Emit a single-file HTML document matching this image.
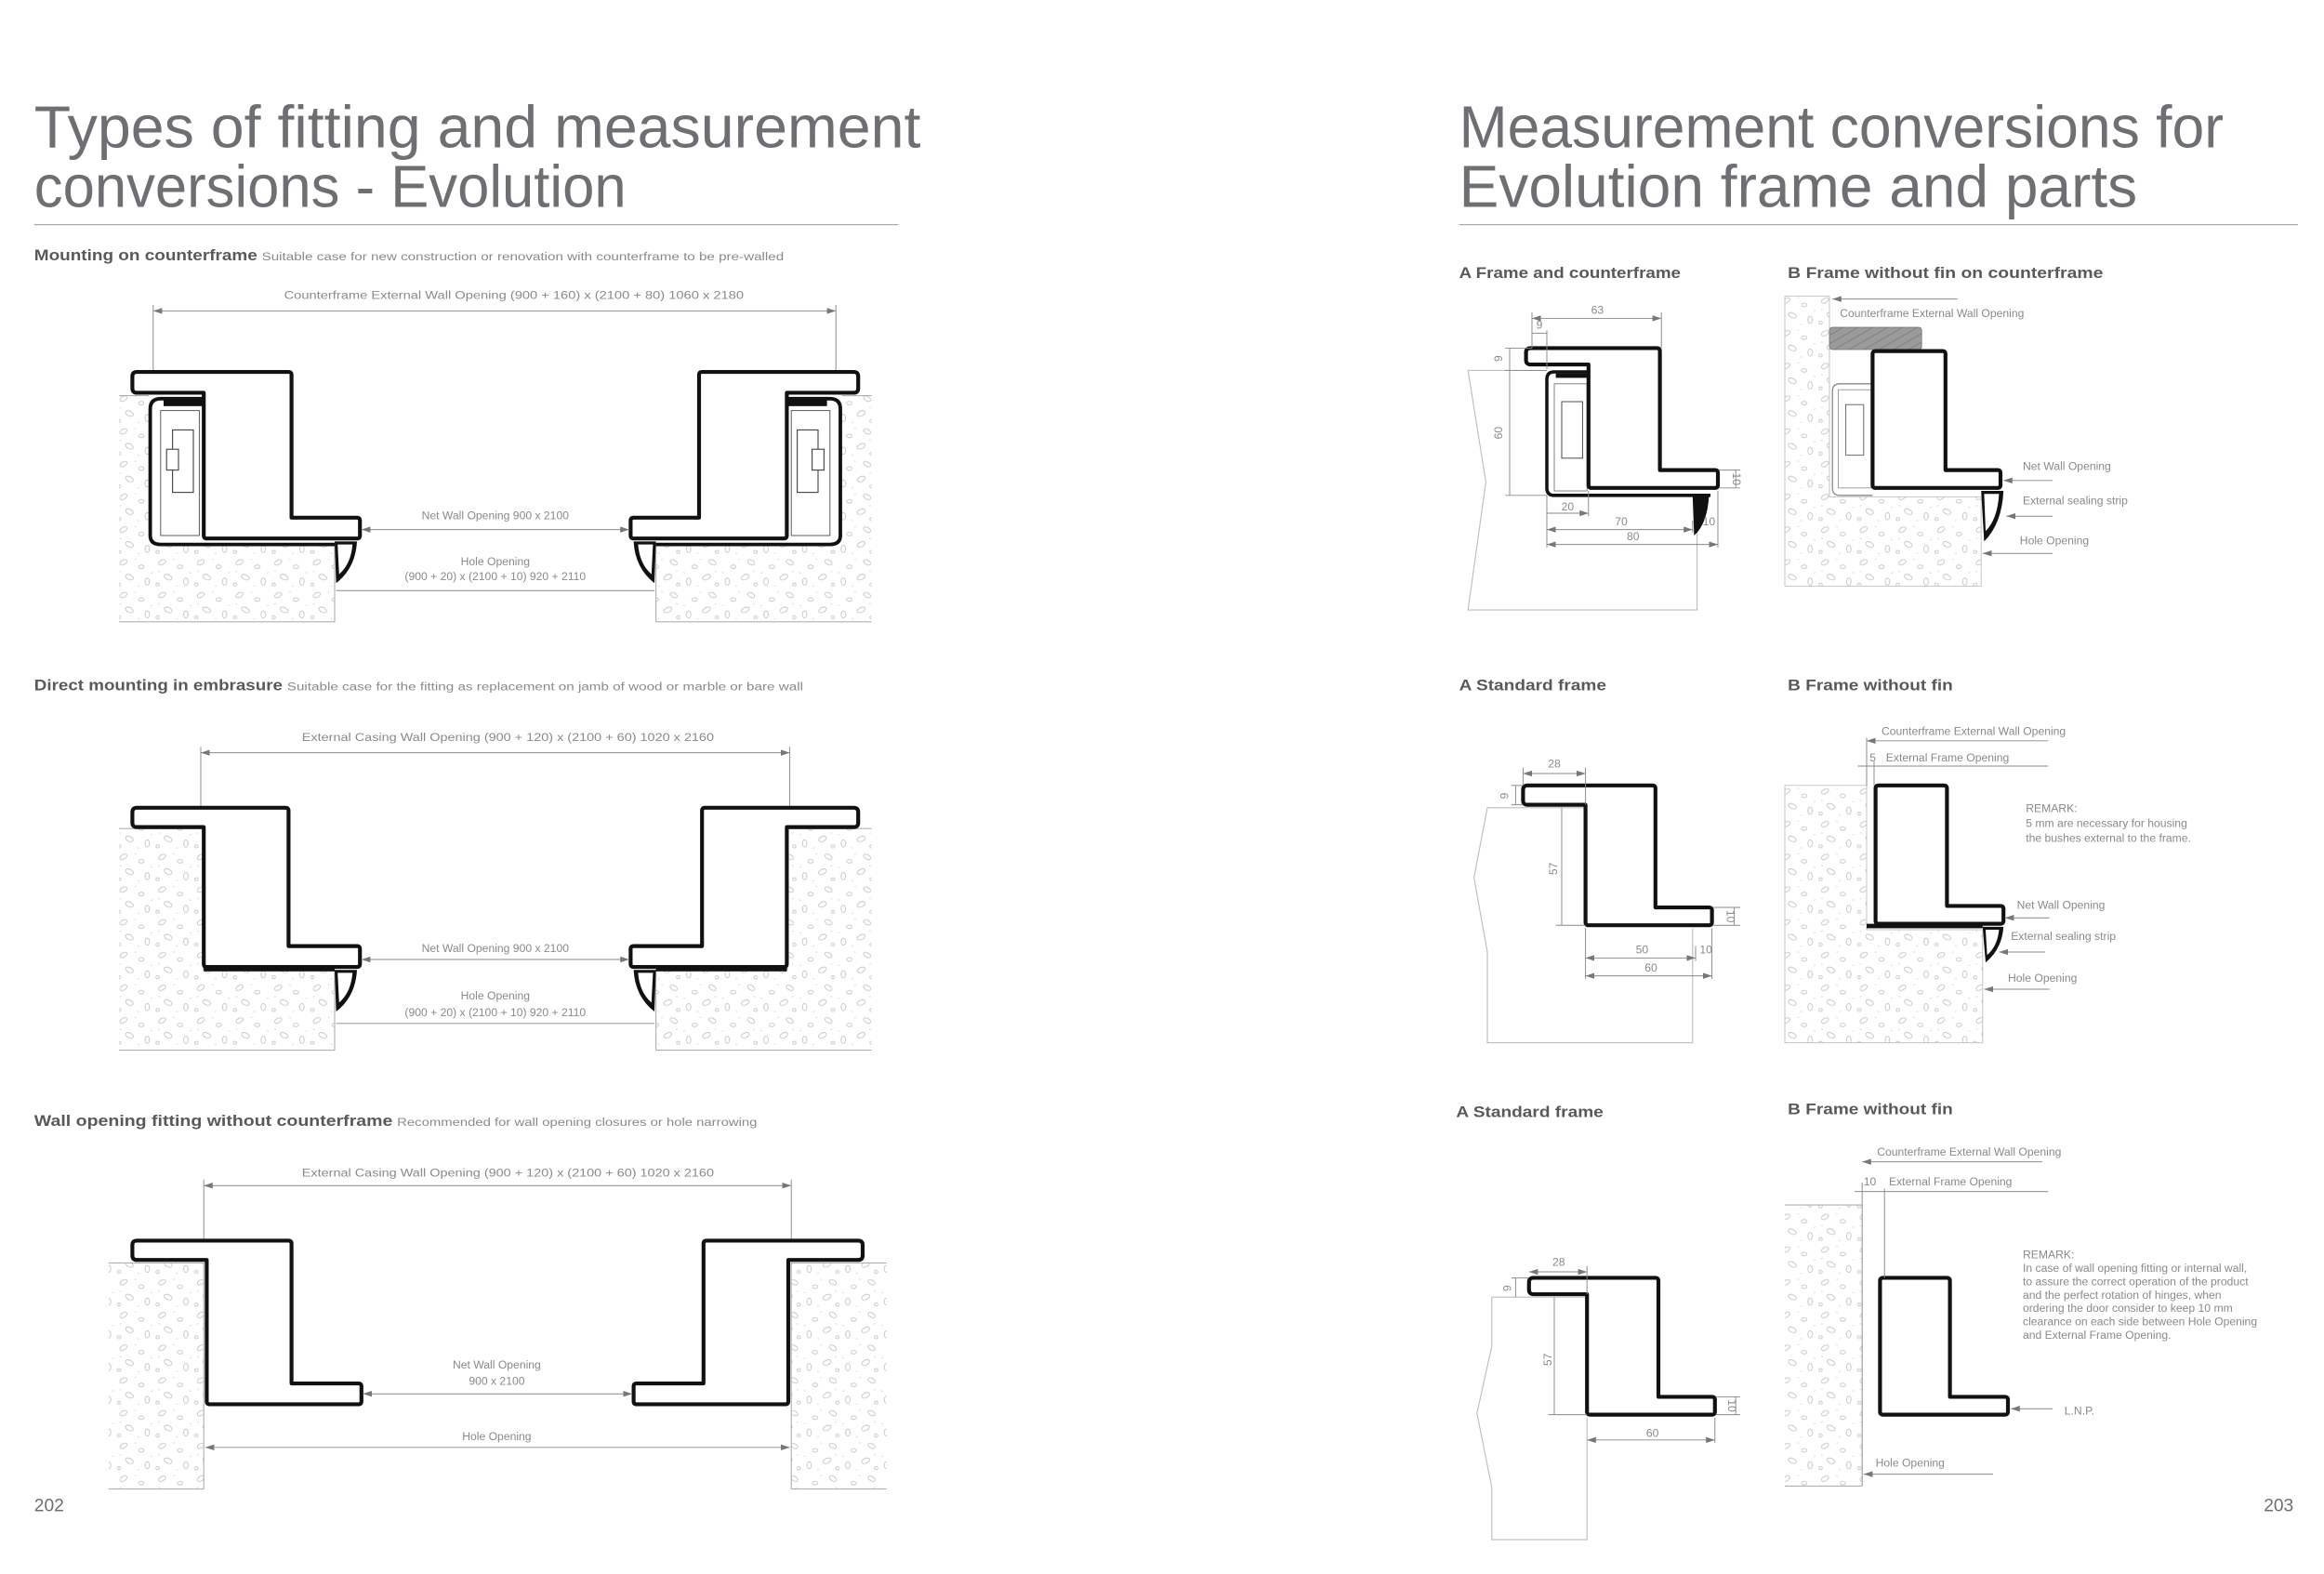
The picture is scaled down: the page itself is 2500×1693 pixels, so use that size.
<!DOCTYPE html>
<html><head><meta charset="utf-8"><style>
html,body{margin:0;padding:0;background:#fff;}
svg{display:block;}
text{font-family:"Liberation Sans",sans-serif;}
.t{fill:#6e6f72;font-size:40px;}
.sb{fill:#58595b;font-size:10.5px;font-weight:bold;}
.ss{fill:#8a8a8a;font-size:7.6px;}
.d{fill:#8a8a8a;font-size:7.6px;}
.fr{fill:#fff;stroke:#111;stroke-width:2.6;stroke-linejoin:round;}
.dl{stroke:#8a8a8a;stroke-width:0.6;fill:none;}
.wl{stroke:none;fill:url(#stone);}
.we{stroke:#b0b0b0;stroke-width:0.7;fill:none;}
.wr{stroke:#c4c4c4;stroke-width:0.6;fill:url(#stone);}
.ol{stroke:#bdbdbd;stroke-width:0.7;fill:none;}
</style></head><body>
<svg width="2500" height="1693" viewBox="0 0 1562.5 1058.1" xmlns="http://www.w3.org/2000/svg">
<defs>
<pattern id="stone" width="26" height="22" patternUnits="userSpaceOnUse">
<g fill="none" stroke="#bdbdbd" stroke-width="0.5">
<ellipse cx="5" cy="4" rx="2.6" ry="1.5" transform="rotate(-30 5 4)"/>
<ellipse cx="17" cy="7" rx="1.8" ry="1.2"/>
<ellipse cx="9" cy="14" rx="2.8" ry="1.6" transform="rotate(25 9 14)"/>
<ellipse cx="21" cy="17" rx="1.5" ry="2.4"/>
<ellipse cx="2" cy="19" rx="1.2" ry="1"/>
</g>
<g fill="#c4c4c4"><circle cx="13" cy="2" r="0.4"/><circle cx="24" cy="11" r="0.4"/><circle cx="3" cy="10" r="0.4"/><circle cx="15" cy="20" r="0.4"/></g>
</pattern>
<pattern id="hatch" width="5" height="5" patternUnits="userSpaceOnUse" patternTransform="rotate(60)">
<rect width="5" height="5" fill="#9a9a9a"/><line x1="0" y1="0" x2="0" y2="5" stroke="#666" stroke-width="0.6"/>
</pattern>
<marker id="a" markerWidth="6" markerHeight="4" refX="6" refY="2" orient="auto-start-reverse" markerUnits="userSpaceOnUse"><path d="M0,0 L6,2 L0,4 Z" fill="#777"/></marker>
</defs>

<!-- LEFT PAGE -->
<text class="t" x="23" y="99" textLength="596" lengthAdjust="spacingAndGlyphs">Types of fitting and measurement</text>
<text class="t" x="23" y="139" textLength="398" lengthAdjust="spacingAndGlyphs">conversions - Evolution</text>
<line x1="23" y1="151" x2="604" y2="151" stroke="#aaa" stroke-width="0.8"/>

<text x="23" y="175"><tspan class="sb" textLength="150" lengthAdjust="spacingAndGlyphs">Mounting on counterframe</tspan></text>
<text class="ss" x="176" y="175" textLength="351" lengthAdjust="spacingAndGlyphs">Suitable case for new construction or renovation with counterframe to be pre-walled</text>

<!-- Section 1 -->
<text class="d" x="191" y="201" textLength="309" lengthAdjust="spacingAndGlyphs">Counterframe External Wall Opening (900 + 160) x (2100 + 80) 1060 x 2180</text>
<line class="dl" x1="103" y1="209" x2="562" y2="209" marker-start="url(#a)" marker-end="url(#a)"/>
<line class="dl" x1="103" y1="205" x2="103" y2="262"/>
<line class="dl" x1="562" y1="205" x2="562" y2="262"/>
<g id="s1">
<path class="wl" d="M80,266 L100,266 L100,366 L225,366 L225,418 L80,418 Z"/>
<path class="we" d="M80,266 L100,266 M225,366 L225,418 M80,418 L225,418"/>
<path d="M137,268 L108,268 Q101,268 101,275 L101,360 Q101,366 108,366 L225,366" fill="none" stroke="#111" stroke-width="2.4"/>
<rect x="108" y="276" width="26" height="84" fill="#fff" stroke="#555" stroke-width="0.6"/>
<rect x="110" y="269" width="27" height="4" fill="#111"/>
<rect x="116" y="289" width="14" height="42" fill="#fff" stroke="#444" stroke-width="0.7"/>
<rect x="112" y="302" width="8" height="14" fill="#fff" stroke="#444" stroke-width="0.7"/>
<rect x="137" y="290" width="14" height="34" fill="#fff" stroke="#444" stroke-width="0.8"/>
<line x1="137" y1="300" x2="151" y2="300" stroke="#444" stroke-width="0.6"/>
<line x1="137" y1="314" x2="151" y2="314" stroke="#444" stroke-width="0.6"/>
<path class="fr" d="M92,250 L194,250 Q196,250 196,252 L196,348 L240,348 Q242,348 242,350 L242,360 Q242,362 240,362 L139,362 Q137,362 137,360 L137,264 L92,264 Q89,264 89,261 L89,253 Q89,250 92,250 Z"/>
<path d="M225,364 L240,364 Q239,382 226,392 Z" fill="#111"/>
<path d="M227,366 L237,366 Q236,379 228,386 Z" fill="#fff"/>
</g>
<use href="#s1" transform="translate(666,0) scale(-1,1)"/>
<text class="d" x="333" y="349" text-anchor="middle">Net Wall Opening 900 x 2100</text>
<line class="dl" x1="243" y1="356" x2="423" y2="356" marker-start="url(#a)" marker-end="url(#a)"/>
<text class="d" x="333" y="380" text-anchor="middle">Hole Opening</text>
<text class="d" x="333" y="390" text-anchor="middle">(900 + 20) x (2100 + 10) 920 + 2110</text>
<line class="dl" x1="226" y1="397" x2="440" y2="397"/>

<!-- Section 2 -->
<text x="23" y="464"><tspan class="sb" textLength="167" lengthAdjust="spacingAndGlyphs">Direct mounting in embrasure</tspan></text>
<text class="ss" x="193" y="464" textLength="347" lengthAdjust="spacingAndGlyphs">Suitable case for the fitting as replacement on jamb of wood or marble or bare wall</text>
<text class="d" x="203" y="498" textLength="277" lengthAdjust="spacingAndGlyphs">External Casing Wall Opening (900 + 120) x (2100 + 60) 1020 x 2160</text>
<line class="dl" x1="135" y1="506" x2="531" y2="506" marker-start="url(#a)" marker-end="url(#a)"/>
<line class="dl" x1="135" y1="502" x2="135" y2="556"/>
<line class="dl" x1="531" y1="502" x2="531" y2="556"/>
<g id="s2">
<path class="wl" d="M80,557 L137,557 L137,652 L225,652 L225,706 L80,706 Z"/>
<path class="we" d="M80,557 L137,557 L137,652 M225,652 L225,706 M80,706 L225,706"/>
<path class="fr" d="M92,543 L192,543 Q194,543 194,545 L194,636 L240,636 Q242,636 242,638 L242,648 Q242,650 240,650 L139,650 Q137,650 137,648 L137,556 L92,556 Q89,556 89,553 L89,546 Q89,543 92,543 Z"/>
<rect x="137" y="650" width="88" height="3" fill="#111"/>
<path d="M225,652 L240,652 Q239,670 226,680 Z" fill="#111"/>
<path d="M227,654 L237,654 Q236,667 228,674 Z" fill="#fff"/>
</g>
<use href="#s2" transform="translate(666,0) scale(-1,1)"/>
<text class="d" x="333" y="640" text-anchor="middle">Net Wall Opening 900 x 2100</text>
<line class="dl" x1="243" y1="645" x2="423" y2="645" marker-start="url(#a)" marker-end="url(#a)"/>
<text class="d" x="333" y="672" text-anchor="middle">Hole Opening</text>
<text class="d" x="333" y="683" text-anchor="middle">(900 + 20) x (2100 + 10) 920 + 2110</text>
<line class="dl" x1="226" y1="688" x2="440" y2="688"/>

<!-- Section 3 -->
<text x="23" y="757"><tspan class="sb" textLength="241" lengthAdjust="spacingAndGlyphs">Wall opening fitting without counterframe</tspan></text>
<text class="ss" x="267" y="757" textLength="242" lengthAdjust="spacingAndGlyphs">Recommended for wall opening closures or hole narrowing</text>
<text class="d" x="203" y="791" textLength="277" lengthAdjust="spacingAndGlyphs">External Casing Wall Opening (900 + 120) x (2100 + 60) 1020 x 2160</text>
<line class="dl" x1="137" y1="797" x2="532" y2="797" marker-start="url(#a)" marker-end="url(#a)"/>
<line class="dl" x1="137" y1="793" x2="137" y2="848"/>
<line class="dl" x1="532" y1="793" x2="532" y2="848"/>
<g id="s3">
<path class="wl" d="M73,849 L137,849 L137,1001 L73,1001 Z"/>
<path class="we" d="M73,849 L137,849 L137,1001 M73,1001 L137,1001"/>
<path class="fr" d="M92,834 L194,834 Q196,834 196,836 L196,930 L241,930 Q243,930 243,932 L243,942 Q243,944 241,944 L141,944 Q139,944 139,942 L139,847 L92,847 Q89,847 89,844 L89,837 Q89,834 92,834 Z"/>
</g>
<use href="#s3" transform="translate(669,0) scale(-1,1)"/>
<text class="d" x="334" y="920" text-anchor="middle">Net Wall Opening</text>
<text class="d" x="334" y="931" text-anchor="middle">900 x 2100</text>
<line class="dl" x1="244" y1="937" x2="425" y2="937" marker-start="url(#a)" marker-end="url(#a)"/>
<text class="d" x="334" y="968" text-anchor="middle">Hole Opening</text>
<line class="dl" x1="138" y1="973" x2="531" y2="973" marker-start="url(#a)" marker-end="url(#a)"/>

<text x="23" y="1016" fill="#6e6f72" font-size="12">202</text>

<!-- RIGHT PAGE -->
<text class="t" x="981" y="99" textLength="514" lengthAdjust="spacingAndGlyphs">Measurement conversions for</text>
<text class="t" x="981" y="139" textLength="456" lengthAdjust="spacingAndGlyphs">Evolution frame and parts</text>
<line x1="981" y1="151" x2="1545" y2="151" stroke="#aaa" stroke-width="0.8"/>

<text class="sb" x="981" y="187" textLength="149" lengthAdjust="spacingAndGlyphs">A Frame and counterframe</text>
<text class="sb" x="1202" y="187" textLength="212" lengthAdjust="spacingAndGlyphs">B Frame without fin on counterframe</text>

<!-- A1 -->
<path class="ol" d="M1040,249 L987,249 L999,324 L987,410 L1141,410 L1141,335"/>
<path d="M1068,250 L1045,250 Q1040,250 1040,255 L1040,328 Q1040,333 1045,333 L1150,333" fill="none" stroke="#111" stroke-width="2.2"/>
<rect x="1045" y="258" width="22" height="72" fill="#fff" stroke="#666" stroke-width="0.5"/>
<rect x="1050" y="270" width="14" height="38" fill="#fff" stroke="#444" stroke-width="0.6"/>
<rect x="1068" y="272" width="10" height="26" fill="#fff" stroke="#444" stroke-width="0.7"/>
<rect x="1046" y="251" width="22" height="3" fill="#111"/>
<path class="fr" d="M1029,234 L1114,234 Q1116,234 1116,236 L1116,316 L1153,316 Q1155,316 1155,318 L1155,326 Q1155,328 1153,328 L1070,328 Q1068,328 1068,326 L1068,245 L1029,245 Q1026,245 1026,242 L1026,237 Q1026,234 1029,234 Z"/>
<path d="M1138,333 L1149,333 Q1148,352 1139,360 Z" fill="#111"/>
<text class="d" x="1074" y="211" text-anchor="middle">63</text>
<line class="dl" x1="1030" y1="214" x2="1117" y2="214" marker-start="url(#a)" marker-end="url(#a)"/>
<line class="dl" x1="1030" y1="210" x2="1030" y2="234"/>
<line class="dl" x1="1117" y1="210" x2="1117" y2="234"/>
<text class="d" x="1035" y="221" text-anchor="middle">9</text>
<line class="dl" x1="1030" y1="224" x2="1040" y2="224"/>
<line class="dl" x1="1040" y1="222" x2="1040" y2="248"/>
<line class="dl" x1="1012" y1="234" x2="1030" y2="234"/>
<line class="dl" x1="1015" y1="234" x2="1015" y2="333"/>
<line class="dl" x1="1012" y1="249" x2="1040" y2="249"/>
<line class="dl" x1="1012" y1="333" x2="1040" y2="333"/>
<text class="d" transform="translate(1010,241) rotate(-90)" text-anchor="middle">9</text>
<text class="d" transform="translate(1010,291) rotate(-90)" text-anchor="middle">60</text>
<line class="dl" x1="1156" y1="316" x2="1170" y2="316"/>
<line class="dl" x1="1156" y1="328" x2="1170" y2="328"/>
<line class="dl" x1="1167" y1="316" x2="1167" y2="328"/>
<text class="d" transform="translate(1165,322) rotate(90)" text-anchor="middle">10</text>
<line class="dl" x1="1068" y1="330" x2="1068" y2="347"/>
<line class="dl" x1="1040" y1="333" x2="1040" y2="368"/>
<line class="dl" x1="1155" y1="330" x2="1155" y2="368"/>
<line class="dl" x1="1138" y1="350" x2="1138" y2="358"/>
<text class="d" x="1054" y="343" text-anchor="middle">20</text>
<line class="dl" x1="1040" y1="345" x2="1068" y2="345" marker-end="url(#a)"/>
<text class="d" x="1090" y="353" text-anchor="middle">70</text>
<text class="d" x="1149" y="353" text-anchor="middle">10</text>
<line class="dl" x1="1040" y1="356" x2="1138" y2="356" marker-start="url(#a)" marker-end="url(#a)"/>
<text class="d" x="1098" y="363" text-anchor="middle">80</text>
<line class="dl" x1="1040" y1="366" x2="1155" y2="366" marker-start="url(#a)" marker-end="url(#a)"/>

<!-- B1 -->
<path class="wr" d="M1200,199 L1230,199 L1230,334 L1332,334 L1332,394 L1200,394 Z"/>
<rect x="1230" y="220" width="62" height="15" rx="2" fill="url(#hatch)" stroke="#777" stroke-width="0.5"/>
<path d="M1259,258 L1237,258 Q1232,258 1232,263 L1232,328 Q1232,333 1237,333 L1259,333" fill="none" stroke="#888" stroke-width="0.8"/>
<rect x="1236" y="262" width="22" height="66" fill="#fff" stroke="#888" stroke-width="0.5"/>
<rect x="1241" y="272" width="12" height="34" fill="#fff" stroke="#666" stroke-width="0.6"/>
<rect x="1259" y="274" width="9" height="24" fill="#fff" stroke="#444" stroke-width="0.7"/>
<path class="fr" d="M1261,236 L1306,236 Q1308,236 1308,238 L1308,316 L1343,316 Q1345,316 1345,318 L1345,326 Q1345,328 1343,328 L1261,328 Q1259,328 1259,326 L1259,238 Q1259,236 1261,236 Z"/>
<path d="M1332,330 L1347,330 Q1346,352 1334,364 Z" fill="#111"/>
<path d="M1334,332 L1344,332 Q1343,349 1335,357 Z" fill="#fff"/>
<line class="dl" x1="1232" y1="201" x2="1316" y2="201" marker-start="url(#a)"/>
<text class="d" x="1237" y="213">Counterframe External Wall Opening</text>
<text class="d" x="1360" y="316">Net Wall Opening</text>
<line class="dl" x1="1347" y1="323" x2="1380" y2="323" marker-start="url(#a)"/>
<text class="d" x="1360" y="339">External sealing strip</text>
<line class="dl" x1="1349" y1="347" x2="1380" y2="347" marker-start="url(#a)"/>
<text class="d" x="1358" y="366">Hole Opening</text>
<line class="dl" x1="1333" y1="372" x2="1380" y2="372" marker-start="url(#a)"/>

<!-- A2 / B2 -->
<text class="sb" x="981" y="464" textLength="99" lengthAdjust="spacingAndGlyphs">A Standard frame</text>
<text class="sb" x="1202" y="464" textLength="111" lengthAdjust="spacingAndGlyphs">B Frame without fin</text>

<path class="ol" d="M1066,543 L1000,543 L991,590 L1000,640 L1000,701 L1138,701 L1138,624"/>
<path class="fr" d="M1027,528 L1111,528 Q1113,528 1113,530 L1113,610 L1149,610 Q1151,610 1151,612 L1151,620 Q1151,622 1149,622 L1068,622 Q1066,622 1066,620 L1066,541 L1027,541 Q1024,541 1024,538 L1024,531 Q1024,528 1027,528 Z"/>
<text class="d" x="1045" y="516" text-anchor="middle">28</text>
<line class="dl" x1="1024" y1="520" x2="1066" y2="520" marker-start="url(#a)" marker-end="url(#a)"/>
<line class="dl" x1="1024" y1="516" x2="1024" y2="528"/>
<line class="dl" x1="1066" y1="516" x2="1066" y2="541"/>
<line class="dl" x1="1016" y1="528" x2="1024" y2="528"/>
<line class="dl" x1="1016" y1="541" x2="1024" y2="541"/>
<line class="dl" x1="1019" y1="528" x2="1019" y2="541"/>
<text class="d" transform="translate(1014,535) rotate(-90)" text-anchor="middle">9</text>
<line class="dl" x1="1050" y1="543" x2="1050" y2="622"/>
<line class="dl" x1="1046" y1="622" x2="1066" y2="622"/>
<text class="d" transform="translate(1047,584) rotate(-90)" text-anchor="middle">57</text>
<line class="dl" x1="1152" y1="610" x2="1170" y2="610"/>
<line class="dl" x1="1152" y1="622" x2="1170" y2="622"/>
<line class="dl" x1="1166" y1="610" x2="1166" y2="622"/>
<text class="d" transform="translate(1161,616) rotate(90)" text-anchor="middle">10</text>
<line class="dl" x1="1066" y1="624" x2="1066" y2="658"/>
<line class="dl" x1="1151" y1="624" x2="1151" y2="658"/>
<line class="dl" x1="1140" y1="636" x2="1140" y2="646"/>
<text class="d" x="1104" y="641" text-anchor="middle">50</text>
<text class="d" x="1147" y="641" text-anchor="middle">10</text>
<line class="dl" x1="1066" y1="644" x2="1140" y2="644" marker-start="url(#a)" marker-end="url(#a)"/>
<text class="d" x="1110" y="653" text-anchor="middle">60</text>
<line class="dl" x1="1066" y1="656" x2="1151" y2="656" marker-start="url(#a)" marker-end="url(#a)"/>

<path class="wr" d="M1200,528 L1255,528 L1255,625 L1333,625 L1333,701 L1200,701 Z"/>
<path class="fr" d="M1263,528 L1307,528 Q1309,528 1309,530 L1309,609 L1345,609 Q1347,609 1347,611 L1347,619 Q1347,621 1345,621 L1263,621 Q1261,621 1261,619 L1261,530 Q1261,528 1263,528 Z"/>
<rect x="1255" y="621" width="78" height="3" fill="#111"/>
<path d="M1333,623 L1347,623 Q1346,638 1335,647 Z" fill="#111"/>
<path d="M1335,625 L1344,625 Q1343,636 1336,642 Z" fill="#fff"/>
<line class="dl" x1="1255" y1="496" x2="1255" y2="528"/>
<line class="dl" x1="1255" y1="498" x2="1377" y2="498" marker-start="url(#a)"/>
<text class="d" x="1265" y="494">Counterframe External Wall Opening</text>
<line class="dl" x1="1260" y1="512" x2="1260" y2="528"/>
<line class="dl" x1="1249" y1="515" x2="1377" y2="515"/>
<text class="d" x="1257" y="512">5</text>
<text class="d" x="1268" y="512">External Frame Opening</text>
<text class="d" x="1362" y="546">REMARK:</text>
<text class="d" x="1362" y="556">5 mm are necessary for housing</text>
<text class="d" x="1362" y="566">the bushes external to the frame.</text>
<text class="d" x="1356" y="611">Net Wall Opening</text>
<line class="dl" x1="1348" y1="617" x2="1378" y2="617" marker-start="url(#a)"/>
<text class="d" x="1352" y="632">External sealing strip</text>
<line class="dl" x1="1344" y1="640" x2="1375" y2="640" marker-start="url(#a)"/>
<text class="d" x="1350" y="660">Hole Opening</text>
<line class="dl" x1="1334" y1="665" x2="1378" y2="665" marker-start="url(#a)"/>

<!-- A3 / B3 -->
<text class="sb" x="979" y="751" textLength="99" lengthAdjust="spacingAndGlyphs">A Standard frame</text>
<text class="sb" x="1202" y="749" textLength="111" lengthAdjust="spacingAndGlyphs">B Frame without fin</text>

<path class="ol" d="M1067,872 L1003,872 L1003,905 L993,950 L1003,1000 L1003,1035 L1067,1035 L1067,953"/>
<path class="fr" d="M1031,859 L1113,859 Q1115,859 1115,861 L1115,939 L1151,939 Q1153,939 1153,941 L1153,949 Q1153,951 1151,951 L1069,951 Q1067,951 1067,949 L1067,870 L1031,870 Q1028,870 1028,867 L1028,862 Q1028,859 1031,859 Z"/>
<text class="d" x="1048" y="851" text-anchor="middle">28</text>
<line class="dl" x1="1028" y1="855" x2="1067" y2="855" marker-start="url(#a)" marker-end="url(#a)"/>
<line class="dl" x1="1067" y1="851" x2="1067" y2="870"/>
<line class="dl" x1="1016" y1="859" x2="1028" y2="859"/>
<line class="dl" x1="1019" y1="859" x2="1019" y2="872"/>
<text class="d" transform="translate(1016,866) rotate(-90)" text-anchor="middle">9</text>
<line class="dl" x1="1045" y1="872" x2="1045" y2="951"/>
<line class="dl" x1="1041" y1="951" x2="1067" y2="951"/>
<text class="d" transform="translate(1043,914) rotate(-90)" text-anchor="middle">57</text>
<line class="dl" x1="1154" y1="939" x2="1170" y2="939"/>
<line class="dl" x1="1154" y1="951" x2="1170" y2="951"/>
<line class="dl" x1="1167" y1="939" x2="1167" y2="951"/>
<text class="d" transform="translate(1162,945) rotate(90)" text-anchor="middle">10</text>
<line class="dl" x1="1153" y1="953" x2="1153" y2="970"/>
<text class="d" x="1111" y="966" text-anchor="middle">60</text>
<line class="dl" x1="1067" y1="968" x2="1153" y2="968" marker-start="url(#a)" marker-end="url(#a)"/>

<path class="wl" d="M1200,810 L1252,810 L1252,999 L1200,999 Z"/>
<path class="we" d="M1200,810 L1252,810 M1200,999 L1252,999"/>
<line x1="1252" y1="795" x2="1252" y2="999" stroke="#999" stroke-width="0.7"/>
<path class="fr" d="M1266,859 L1309,859 Q1311,859 1311,861 L1311,939 L1348,939 Q1350,939 1350,941 L1350,949 Q1350,951 1348,951 L1266,951 Q1264,951 1264,949 L1264,861 Q1264,859 1266,859 Z"/>
<line class="dl" x1="1267" y1="799" x2="1267" y2="859"/>
<text class="d" x="1262" y="777">Counterframe External Wall Opening</text>
<line class="dl" x1="1252" y1="781" x2="1373" y2="781" marker-start="url(#a)"/>
<text class="d" x="1253" y="797">10</text>
<text class="d" x="1270" y="797">External Frame Opening</text>
<line class="dl" x1="1247" y1="801" x2="1377" y2="801"/>
<text class="d" x="1360" y="846">REMARK:</text>
<text class="d" x="1360" y="855">In case of wall opening fitting or internal wall,</text>
<text class="d" x="1360" y="864">to assure the correct operation of the product</text>
<text class="d" x="1360" y="873">and the perfect rotation of hinges, when</text>
<text class="d" x="1360" y="882">ordering the door consider to keep 10 mm</text>
<text class="d" x="1360" y="891">clearance on each side between Hole Opening</text>
<text class="d" x="1360" y="900">and External Frame Opening.</text>
<text class="d" x="1388" y="951">L.N.P.</text>
<line class="dl" x1="1352" y1="947" x2="1380" y2="947" marker-start="url(#a)"/>
<text class="d" x="1261" y="986">Hole Opening</text>
<line class="dl" x1="1253" y1="991" x2="1340" y2="991" marker-start="url(#a)"/>

<text x="1522" y="1016" fill="#6e6f72" font-size="12">203</text>
</svg>
</body></html>
